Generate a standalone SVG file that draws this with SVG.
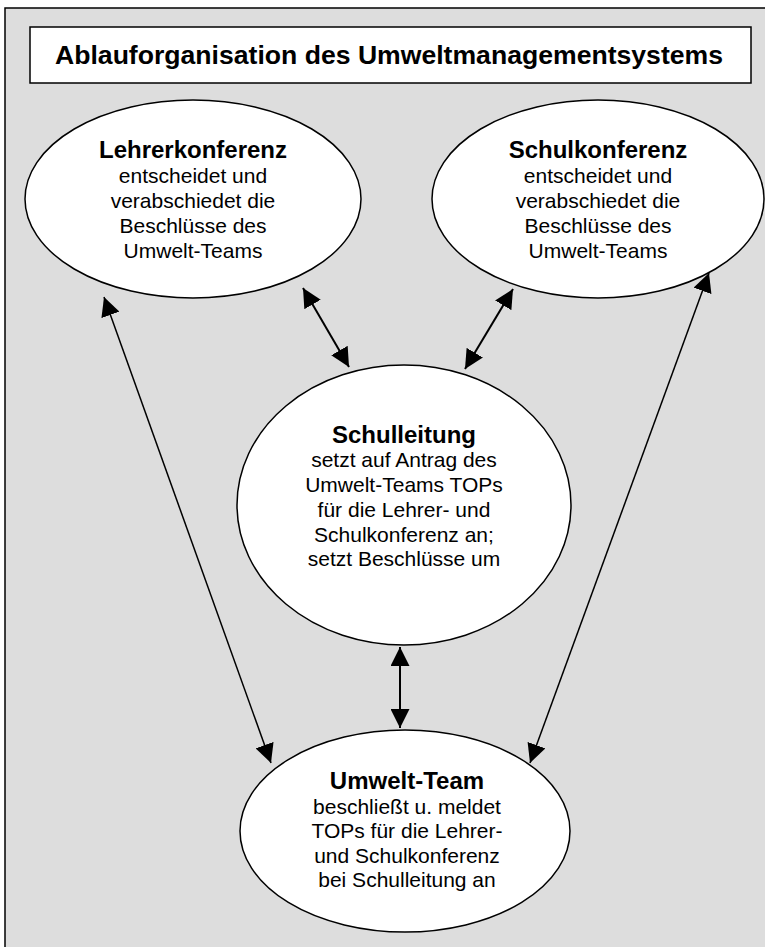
<svg xmlns="http://www.w3.org/2000/svg" width="765" height="947" viewBox="0 0 765 947">
<style>
.frame{fill:#dddddd;stroke:#000;stroke-width:1.5}
.box{fill:#fff;stroke:#000;stroke-width:1.5}
.node{fill:#fff;stroke:#000;stroke-width:1.5}
.t{font-family:"Liberation Sans",Arial,sans-serif;fill:#000;text-anchor:middle}
.h{font-size:24px;font-weight:bold}
.b{font-size:21px}
.title{font-size:26.6px;font-weight:bold}
.c{stroke:#000;fill:none}
.s{stroke-width:2}
.l{stroke-width:1.5}
</style>
<defs>
<marker id="ah" markerUnits="userSpaceOnUse" markerWidth="19" markerHeight="19" refX="19" refY="9.5" orient="auto-start-reverse" viewBox="0 0 19 19">
<path d="M0,0 L19,9.5 L0,19 Z" fill="#000"/>
</marker>
</defs>
<rect class="frame" x="5" y="8" width="780" height="960"/>
<g id="title">
<rect class="box" x="30" y="27" width="721" height="56"/>
<text class="t title" x="389" y="64">Ablauforganisation des Umweltmanagementsystems</text>
</g>
<g id="lehrerkonferenz">
<ellipse class="node" cx="193" cy="199" rx="168" ry="99"/>
<text class="t h" x="193" y="158">Lehrerkonferenz</text>
<text class="t b" x="193" y="183">entscheidet und</text>
<text class="t b" x="193" y="208">verabschiedet die</text>
<text class="t b" x="193" y="233">Beschlüsse des</text>
<text class="t b" x="193" y="258">Umwelt-Teams</text>
</g>
<g id="schulkonferenz">
<ellipse class="node" cx="598" cy="199" rx="166" ry="99"/>
<text class="t h" x="598" y="158">Schulkonferenz</text>
<text class="t b" x="598" y="183">entscheidet und</text>
<text class="t b" x="598" y="208">verabschiedet die</text>
<text class="t b" x="598" y="233">Beschlüsse des</text>
<text class="t b" x="598" y="258">Umwelt-Teams</text>
</g>
<g id="schulleitung">
<ellipse class="node" cx="404" cy="505" rx="167" ry="140"/>
<text class="t h" x="404" y="443">Schulleitung</text>
<text class="t b" x="404" y="467">setzt auf Antrag des</text>
<text class="t b" x="404" y="492">Umwelt-Teams TOPs</text>
<text class="t b" x="404" y="517">für die Lehrer- und</text>
<text class="t b" x="404" y="542">Schulkonferenz an;</text>
<text class="t b" x="404" y="566">setzt Beschlüsse um</text>
</g>
<g id="umwelt-team">
<ellipse class="node" cx="405" cy="831" rx="165" ry="101"/>
<text class="t h" x="407" y="789">Umwelt-Team</text>
<text class="t b" x="407" y="814">beschließt u. meldet</text>
<text class="t b" x="407" y="838">TOPs für die Lehrer-</text>
<text class="t b" x="407" y="863">und Schulkonferenz</text>
<text class="t b" x="407" y="887">bei Schulleitung an</text>
</g>
<g id="connectors">
<line class="c l" x1="104" y1="297" x2="271" y2="763" marker-start="url(#ah)" marker-end="url(#ah)"/>
<line class="c l" x1="709" y1="273" x2="530" y2="763" marker-start="url(#ah)" marker-end="url(#ah)"/>
<line class="c s" x1="303" y1="288" x2="349" y2="367" marker-start="url(#ah)" marker-end="url(#ah)"/>
<line class="c s" x1="513" y1="289" x2="465" y2="369" marker-start="url(#ah)" marker-end="url(#ah)"/>
<line class="c s" x1="400" y1="647" x2="400" y2="728" marker-start="url(#ah)" marker-end="url(#ah)"/>
</g>
</svg>
